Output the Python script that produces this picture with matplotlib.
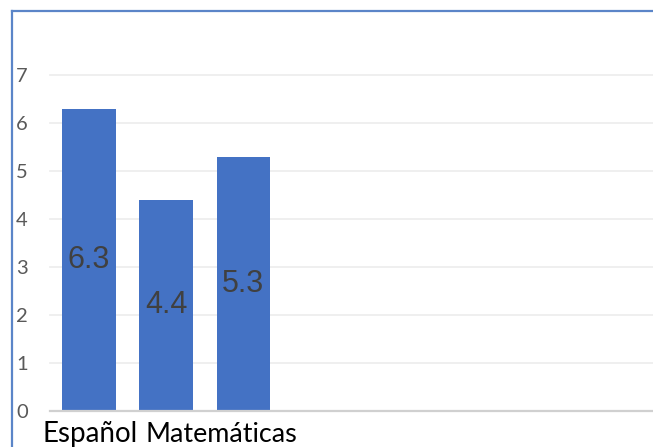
import matplotlib
matplotlib.use("Agg")
import matplotlib.pyplot as plt
from matplotlib.lines import Line2D

categories = ["Español", "Matemáticas", ""]
values = [6.3, 4.4, 5.3]
yticks = [0, 1, 2, 3, 4, 5, 6, 7]

W, H = 653, 447
fig = plt.figure(figsize=(W / 100, H / 100), dpi=100)
ax = fig.add_axes([50 / W, 36 / H, (W - 50) / W, (411 - 75) / H])

x = list(range(len(values)))
ax.bar(x, values, width=0.69, color="#4472C4", zorder=3)
for xi, v in zip(x, values):
    ax.text(xi, v / 2, f"{v}", ha="center", va="center", fontsize=22,
            family="Liberation Sans", color="#404040", zorder=4)

ax.set_xlim(-0.506, 7.32)
ax.set_ylim(0, 7)
ax.set_yticks(yticks)
ax.set_yticklabels([str(t) for t in yticks], family="Lato", fontsize=14.5,
                   color="#595959", ha="left")
ax.tick_params(axis="y", length=0, pad=24.5)
ax.set_xticks([])
for yt in yticks[1:]:
    ax.axhline(yt, color="#ececec", lw=1.2, zorder=1, clip_on=False)
ax.axhline(0, color="#d0d0d0", lw=1.6, zorder=5, clip_on=False)
for s in ax.spines.values():
    s.set_visible(False)

# category labels
ax.text(-0.6, -0.646, categories[0], ha="left", va="baseline", fontsize=20,
        family="Lato", color="#000000", clip_on=False)
ax.text(0.727, -0.646, categories[1], ha="left", va="baseline", fontsize=19.4,
        family="Lato", color="#000000", clip_on=False)

# chart border (left and top)
fig.add_artist(Line2D([12 / W, 12 / W], [0, 1 - 11 / H], transform=fig.transFigure,
                      color="#5B85C8", lw=1.6))
fig.add_artist(Line2D([12 / W, 1], [1 - 11 / H, 1 - 11 / H], transform=fig.transFigure,
                      color="#5B85C8", lw=1.6))

fig.savefig("out.png", dpi=100)
